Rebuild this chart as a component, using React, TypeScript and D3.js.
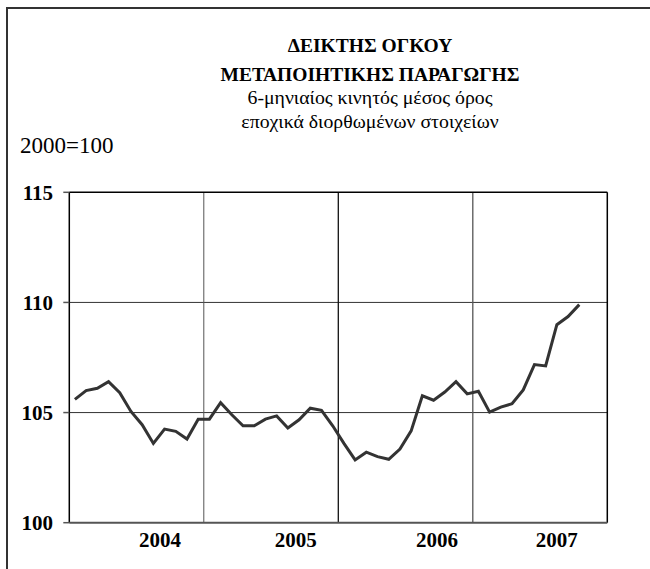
import * as d3 from "d3";

// 6-month moving average, Jan 2004 .. Oct 2007 (2000=100)
const values = [
  105.6, 106.0, 106.1, 106.4, 105.9, 105.05, 104.45, 103.6, 104.25, 104.15,
  103.8, 104.7, 104.7, 105.45, 104.9, 104.4, 104.4, 104.7, 104.85, 104.3,
  104.67, 105.2, 105.1, 104.4, 103.6, 102.85, 103.2, 103.0, 102.88, 103.34,
  104.17, 105.76, 105.56, 105.93, 106.4, 105.85, 105.97, 105.02, 105.25, 105.4,
  106.03, 107.18, 107.12, 108.99, 109.36, 109.9,
];
const years = ["2004", "2005", "2006", "2007"];
// where each year label sits, in months from Jan 2004
const yearLabelAt = [8.1, 20.2, 32.8, 43.5];
const yTicks = [100, 105, 110, 115];
const titleLines = ["ΔΕΙΚΤΗΣ ΟΓΚΟΥ", "ΜΕΤΑΠΟΙΗΤΙΚΗΣ ΠΑΡΑΓΩΓΗΣ"];
const subtitleLines = [
  "6-μηνιαίος κινητός μέσος όρος",
  "εποχικά διορθωμένων στοιχείων",
];
const baseLabel = "2000=100";

const W = 650;
const H = 569;
const margin = { left: 69.3, right: 42.7, top: 192.3, bottom: 46.3 };
const font = "'Liberation Serif', 'DejaVu Serif', serif";

export default function App() {
  const months = years.length * 12;
  const x = d3
    .scaleLinear()
    .domain([0, months])
    .range([margin.left, W - margin.right]);
  const y = d3
    .scaleLinear()
    .domain([100, 115])
    .range([H - margin.bottom, margin.top]);

  const line = d3
    .line<number>()
    .x((_, i) => x(i + 0.5))
    .y((d) => y(d));

  const x0 = x(0);
  const x1 = x(months);
  const y0 = y(100);
  const y1 = y(115);

  return (
    <svg
      width={W}
      height={H}
      style={{ position: "absolute", left: 0, top: 0, background: "#fff", fontFamily: font }}
    >
      <rect x={7} y={8} width={800} height={800} fill="none" stroke="#333" strokeWidth={2} />

      {titleLines.map((t, i) => (
        <text key={t} x={370} y={52 + i * 29} textAnchor="middle" fontWeight="bold" fontSize={19.5}>
          {t}
        </text>
      ))}
      {subtitleLines.map((t, i) => (
        <text key={t} x={370} y={104 + i * 24} textAnchor="middle" fontSize={19.8}>
          {t}
        </text>
      ))}
      <text x={20} y={153} fontSize={23}>
        {baseLabel}
      </text>

      {/* horizontal gridlines */}
      {yTicks.slice(1, -1).map((t) => (
        <line key={t} x1={x0} x2={x1} y1={y(t)} y2={y(t)} stroke="#333" strokeWidth={1} />
      ))}
      {/* vertical gridlines between years */}
      {years.slice(1).map((yr, i) => (
        <line
          key={yr}
          x1={x((i + 1) * 12)}
          x2={x((i + 1) * 12)}
          y1={y1}
          y2={y0}
          stroke={i === 1 ? "#111" : "#555"}
          strokeWidth={i === 0 ? 1 : 1.3}
        />
      ))}

      {/* plot frame */}
      <line x1={x0} x2={x1} y1={y1} y2={y1} stroke="#000" strokeWidth={1.5} />
      <line x1={x1} x2={x1} y1={y1} y2={y0} stroke="#000" strokeWidth={1.5} />
      <line x1={x0} x2={x0} y1={y1} y2={y0} stroke="#000" strokeWidth={1.5} />
      <line x1={x0} x2={x1} y1={y0} y2={y0} stroke="#555" strokeWidth={2} />

      {/* y ticks and labels */}
      {yTicks.map((t) => (
        <g key={t}>
          <line x1={x0 - 6} x2={x0} y1={y(t)} y2={y(t)} stroke="#555" strokeWidth={1.5} />
          <text x={53} y={y(t)} dy="0.35em" textAnchor="end" fontWeight="bold" fontSize={21}>
            {t}
          </text>
        </g>
      ))}

      {years.map((yr, i) => (
        <text key={yr} x={x(yearLabelAt[i])} y={547} textAnchor="middle" fontWeight="bold" fontSize={21}>
          {yr}
        </text>
      ))}

      <path d={line(values) ?? ""} fill="none" stroke="#333" strokeWidth={3} strokeLinejoin="miter" />
    </svg>
  );
}
